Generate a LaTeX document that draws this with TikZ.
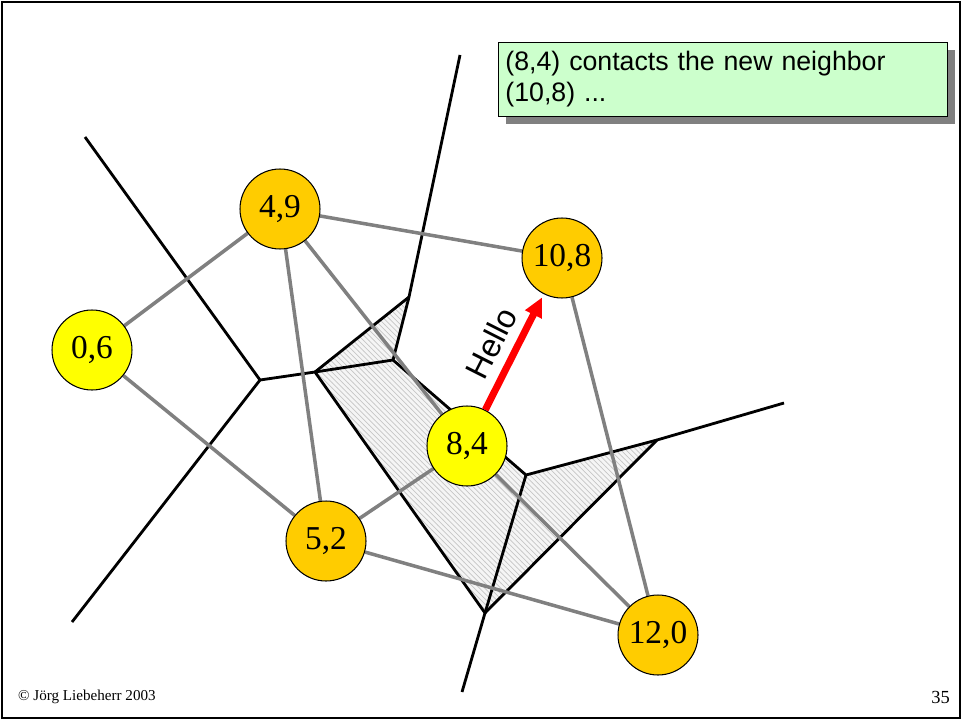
\documentclass[tikz,border=0pt]{standalone}
\usepackage{fontspec}
\setmainfont{Liberation Serif}
\setsansfont{Liberation Sans}
\usepackage{xcolor}
\usetikzlibrary{arrows.meta, patterns, shadows, backgrounds}

\definecolor{siteorange}{RGB}{255,204,0}
\definecolor{siteyellow}{RGB}{255,255,0}
\definecolor{notegreen}{RGB}{204,255,204}
\definecolor{edgegray}{RGB}{128,128,128}

\begin{document}
\begin{tikzpicture}[x=0.02cm, y=-0.02cm,
  site/.style={circle, draw=black, line width=0.6pt, fill=siteorange, minimum size=1.6cm, inner sep=0pt, font=\fontsize{19}{22}\selectfont},
  newsite/.style={site, fill=siteyellow},
  cell/.style={line width=1.6pt, black, line join=round},
  delaunay/.style={line width=2pt, edgegray},
  hello/.style={-{Triangle[length=11pt, width=10pt]}, line width=4pt, red},
  note/.style={draw=black, line width=0.5pt, fill=notegreen, anchor=north west, minimum width=8.96cm, minimum height=1.48cm, text width=8.7cm, align=left, inner sep=4pt, font=\sffamily\fontsize{15.2}{17.5}\selectfont, drop shadow={shadow xshift=0.16cm, shadow yshift=-0.16cm, fill=edgegray, opacity=1}}
]
\useasboundingbox (0,0) rectangle (963,720);
\draw[line width=1.2pt] (2,2) rectangle (960,718);

% sites
\node[newsite] (p06) at (92,350) {0,6};
\node[site] (p49) at (280,209) {4,9};
\node[site] (p108) at (562,258) {10,8};
\node[newsite] (p84) at (467,446) {8,4};
\node[site] (p52) at (326,541) {5,2};
\node[site] (p120) at (658,635) {12,0};

% voronoi vertices
\coordinate (vTop) at (409,297);
\coordinate (vMid) at (393,360);
\coordinate (vLeft) at (315,372);
\coordinate (vFar) at (260,380);
\coordinate (vKnee) at (526,475);
\coordinate (vRight) at (657,440);
\coordinate (vLow) at (485,613);
% open ends
\coordinate (eTop) at (460,55);
\coordinate (eNW) at (85,137);
\coordinate (eSW) at (72,622);
\coordinate (eE) at (784,403);
\coordinate (eS) at (462,692);

\begin{scope}[on background layer]
% region taken over by the new node
\fill[fill=gray!8, postaction={pattern=north west lines, pattern color=gray!45}]
  (vTop) -- (vLeft) -- (vLow) -- (vRight) -- (vKnee) -- (vMid) -- cycle;

\draw[cell] (eTop) -- (vTop) -- (vMid);
\draw[cell] (vTop) -- (vLeft) -- (vLow) -- (vRight) -- (eE);
\draw[cell] (vFar) -- (vLeft) -- (vMid) -- (vKnee) -- (vRight);
\draw[cell] (vKnee) -- (vLow) -- (eS);
\draw[cell] (eNW) -- (vFar) -- (eSW);

\foreach \x/\y in {p06/p49,p06/p52,p49/p108,p49/p52,p49/p84,p52/p84,p52/p120,p84/p120,p108/p120}
  \draw[delaunay] (\x) -- (\y);
\end{scope}

\draw[hello, shorten >=2pt] (p84) -- (p108)
  node[pos=0.48, sloped, above=2pt, black, font=\sffamily\fontsize{18.5}{21}\selectfont] (msg) {Hello};

\node[note] (info) at (498,42) {(8,4) contacts the new neighbor\\(10,8) ...};

\node[anchor=west, font=\fontsize{8.6}{10}\selectfont] (credit) at (12,697) {© Jörg Liebeherr 2003};
\node[anchor=east, font=\fontsize{10.5}{12}\selectfont] (pageno) at (956,697) {35};
\end{tikzpicture}
\end{document}
